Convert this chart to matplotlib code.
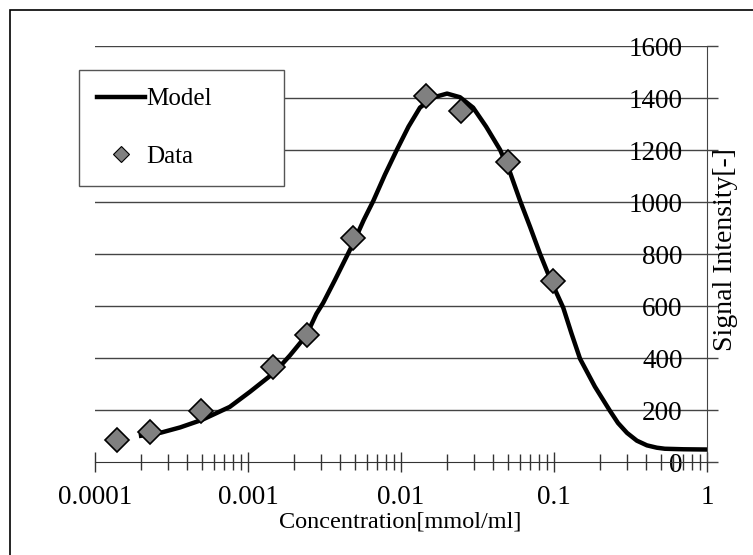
import numpy as np
import matplotlib
matplotlib.use("Agg")
import matplotlib.pyplot as plt
from matplotlib.patches import Rectangle
from matplotlib.ticker import LogLocator, FixedLocator, FixedFormatter

plt.rcParams['font.family'] = ['Liberation Serif', 'DejaVu Serif']

# measured points
data_x = [0.00014, 0.00023, 0.00049, 0.00146, 0.00243, 0.00485, 0.0146, 0.0245, 0.050, 0.099]
data_y = [85, 115, 196, 365, 488, 862, 1408, 1350, 1154, 696]

# model curve
model_x = [0.0002, 0.00027, 0.00036, 0.0005, 0.00076, 0.00103, 0.0015, 0.00188, 0.0024,
           0.0028, 0.0031, 0.0037, 0.0049, 0.0057, 0.0066, 0.00785, 0.0094, 0.0112,
           0.0133, 0.0162, 0.02, 0.0243, 0.0296, 0.036, 0.0444, 0.0515, 0.06, 0.0697,
           0.081, 0.0955, 0.115, 0.13, 0.148, 0.185, 0.232, 0.262, 0.3, 0.348, 0.405,
           0.47, 0.53, 0.7, 1.0]
model_y = [101, 113, 133, 162, 212, 270, 346, 410, 486,
           570, 612, 700, 844, 930, 1005, 1105, 1201, 1290,
           1363, 1402, 1417, 1403, 1363, 1290, 1201, 1115, 1005, 905,
           801, 697, 593, 495, 397, 290, 197, 150, 112, 82, 64,
           55, 51, 49, 48]

x_ticks = [0.0001, 0.001, 0.01, 0.1, 1]
x_labels = ['0.0001', '0.001', '0.01', '0.1', '1']
y_ticks = [0, 200, 400, 600, 800, 1000, 1200, 1400, 1600]

fig = plt.figure(figsize=(7.53, 5.55), dpi=100)
ax = fig.add_axes([95 / 753, 93 / 555, 612 / 753, 416 / 555])

for yv in y_ticks[1:]:
    ax.axhline(yv, color='#444444', lw=1.0, zorder=1)

ax.plot(model_x, model_y, color='black', lw=3.2, label='Model', zorder=3,
        solid_joinstyle='round')
ax.plot(data_x, data_y, linestyle='none', marker='D', markersize=12,
        markerfacecolor='#808080', markeredgecolor='black', markeredgewidth=1.2,
        label='Data', zorder=4)

ax.set_xscale('log')
ax.set_xlim(0.0001, 1)
ax.set_ylim(0, 1600)

ax.xaxis.set_major_locator(FixedLocator(x_ticks))
ax.xaxis.set_major_formatter(FixedFormatter(x_labels))
ax.xaxis.set_minor_locator(LogLocator(base=10, subs=np.arange(2, 10)))
ax.xaxis.set_minor_formatter(plt.NullFormatter())
ax.set_yticks(y_ticks)

for s in ['top', 'right']:
    ax.spines[s].set_visible(False)
ax.spines['left'].set_position(('axes', 1.0))
ax.spines['left'].set_color('#444444')
ax.spines['bottom'].set_color('#333333')

ax.tick_params(axis='x', which='major', direction='inout', length=14, width=1,
               labelsize=19.5, pad=9.5, color='#333333')
ax.tick_params(axis='x', which='minor', direction='inout', length=11, width=1,
               color='#333333')
ax.tick_params(axis='y', direction='in', length=8, width=1, labelsize=19.5, pad=17.5,
               color='#444444')

ax.set_xlabel('Concentration[mmol/ml]', fontsize=17.5)
ax.xaxis.set_label_coords(0.498, -0.12)
ax.xaxis.label.set_va('top')
ax.set_ylabel('Signal Intensity[-]', fontsize=20)
ax.yaxis.set_label_position('right')
ax.yaxis.set_label_coords(1.009, 0.51)

leg = ax.legend(loc='upper left', bbox_to_anchor=(79 / 753, 1 - 183 / 555, 205 / 753, 113 / 555),
                bbox_transform=fig.transFigure, mode='expand', borderaxespad=0,
                fancybox=False, edgecolor='#555555', fontsize=18, handlelength=1.9,
                handletextpad=0.05, labelspacing=1.4, borderpad=0.72, framealpha=1)
leg.get_frame().set_linewidth(1.0)
leg.legend_handles[1].set_markersize(8)
leg.legend_handles[1].set_markeredgewidth(0.8)

fig.patches.append(Rectangle((10 / 753, -0.1), 1.2, 1.1 - 10 / 555, fill=False,
                             edgecolor='black', lw=1.2, transform=fig.transFigure))

fig.savefig('out.png', dpi=100)
